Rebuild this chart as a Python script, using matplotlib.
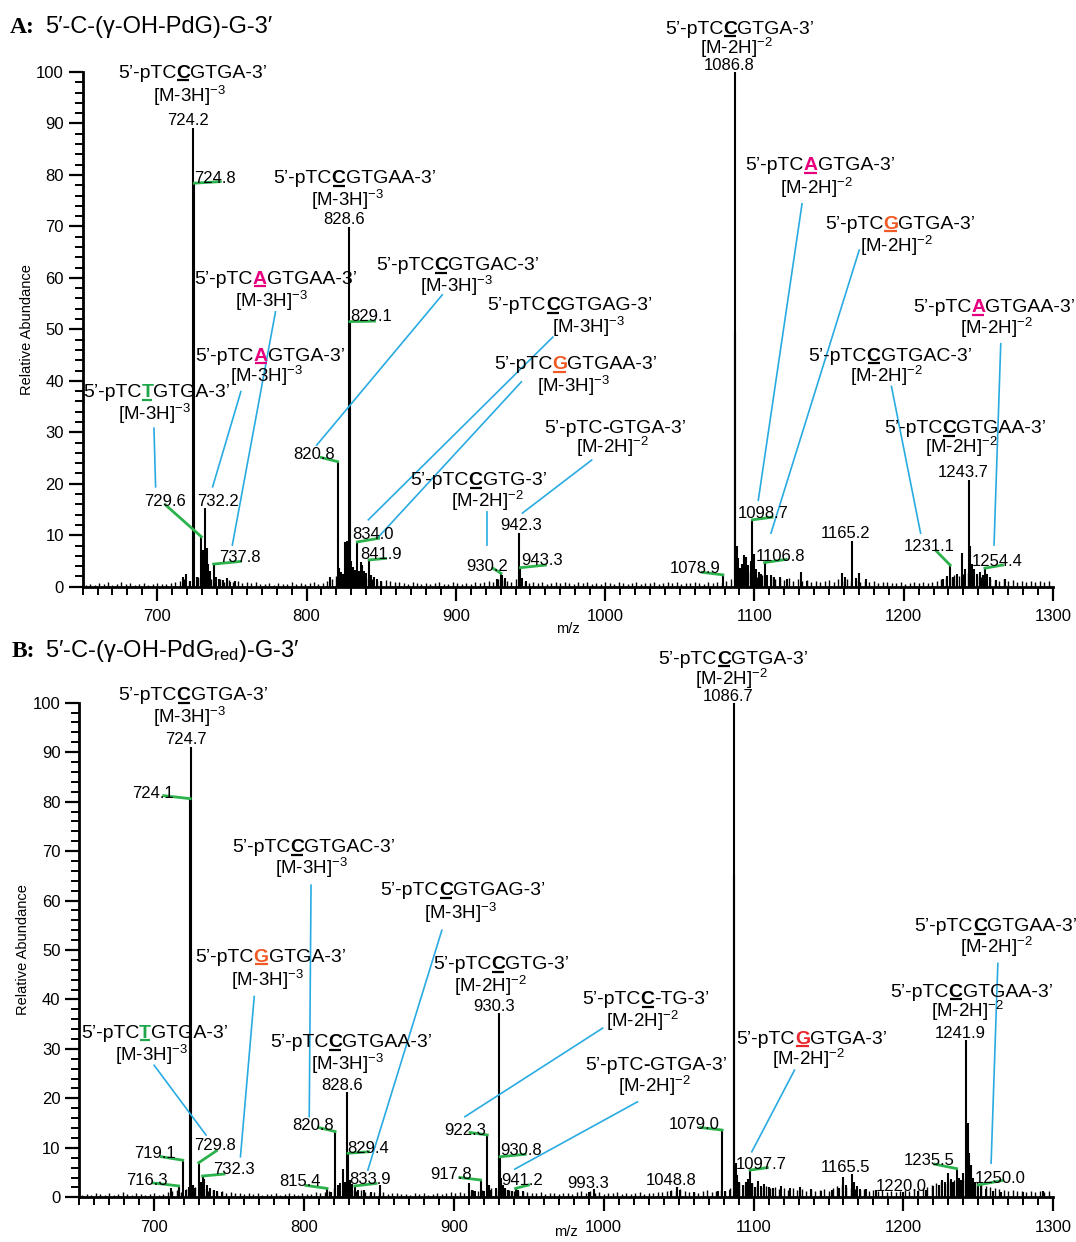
import numpy as np
import matplotlib
matplotlib.use('Agg')
import matplotlib.pyplot as plt
from matplotlib.ticker import MultipleLocator

plt.rcParams['font.family'] = ['Liberation Sans', 'DejaVu Sans']
plt.rcParams['mathtext.fontset'] = 'custom'
plt.rcParams['mathtext.rm'] = 'Liberation Sans'
plt.rcParams['mathtext.it'] = 'Liberation Sans:italic'
plt.rcParams['mathtext.bf'] = 'Liberation Sans:bold'
plt.rcParams['mathtext.sf'] = 'Liberation Sans'

CYAN = '#29abe2'
GREEN = '#2bb24c'
MAG = '#e6007e'
ORANGE = '#f15a24'
RED = '#e8262b'
TGREEN = '#1fa64a'

# ---------------- panel A : peaks (m/z, relative abundance) ----------------
peaks_a_mz = [724.2, 724.8, 729.6, 732.2, 737.8, 820.8, 828.6, 829.1, 834.0, 841.9,
              930.2, 942.3, 943.3, 1078.9, 1086.8, 1098.7, 1106.8, 1165.2, 1231.1,
              1243.7, 1254.4,
              717.5, 719.5, 722.0, 726.3, 727.4, 730.6, 731.3, 733.3, 734.2, 735.5,
              739.5, 741.5, 744.0, 746.5, 749.0, 752.0, 816.0, 821.9, 823.2, 824.3,
              825.9, 826.8, 827.6, 830.0, 831.0, 832.4, 835.2, 836.3, 837.3, 838.6,
              840.0, 843.2, 845.0, 847.0, 850.0, 927.5, 931.2, 933.0, 944.6, 947.0,
              1087.3, 1088.0, 1089.0, 1090.4, 1091.6, 1093.2, 1094.6, 1096.0, 1097.4,
              1099.6, 1101.0, 1102.8, 1104.6, 1108.2, 1110.8, 1113.0, 1117.0, 1122.0,
              1131.0, 1135.0, 1158.7, 1161.0, 1168.0, 1170.0, 1175.0, 1226.0, 1229.0,
              1233.0, 1236.0, 1239.2, 1241.0, 1244.5, 1245.5, 1247.0, 1249.0, 1251.0,
              1253.0, 1256.0, 1258.0, 1262.0, 1268.0]
peaks_a_int = [89.2, 78.4, 9.7, 15.2, 4.4, 24.3, 69.9, 51.5, 8.7, 5.2,
               2.6, 10.4, 3.7, 2.3, 100.0, 13.0, 4.7, 8.9, 4.2,
               20.7, 3.6,
               1.8, 2.4, 1.2, 1.8, 1.4, 7.2, 5.5, 7.6, 4.5, 3.0,
               1.8, 1.5, 1.3, 1.6, 1.0, 1.2, 1.8, 3.6, 2.8, 2.4,
               8.7, 8.9, 4.0, 5.0, 3.8, 3.2, 3.0, 4.8, 4.2, 3.0,
               2.6, 2.2, 1.8, 1.4, 1.1, 1.5, 2.2, 1.6, 1.6, 1.2,
               49.2, 8.0, 5.5, 3.6, 4.5, 6.2, 5.8, 4.2, 5.0,
               6.3, 3.5, 2.8, 2.5, 2.2, 2.3, 1.8, 1.8, 1.5,
               2.9, 1.2, 2.7, 1.8, 1.7, 2.6, 1.5, 1.5, 2.0,
               1.8, 2.5, 6.5, 3.5, 8.0, 4.5, 3.5, 2.5, 2.8,
               2.2, 2.4, 1.8, 1.3, 1.5]

# ---------------- panel B ----------------
peaks_b_mz = [716.3, 719.1, 724.1, 724.7, 729.8, 732.3, 815.4, 820.8, 828.6, 829.4,
              833.9, 917.8, 922.3, 930.3, 930.8, 941.2, 993.3, 1048.8, 1079.0, 1086.7,
              1097.7, 1165.5, 1220.0, 1235.5, 1241.9, 1250.0,
              711.5, 721.0, 723.0, 726.0, 727.2, 731.0, 733.5, 735.0, 737.0, 740.0,
              742.0, 745.0, 818.0, 822.4, 824.0, 825.8, 827.3, 831.0, 832.2, 836.0,
              840.0, 845.0, 851.0, 910.2, 912.0, 914.0, 920.0, 923.5, 925.0, 928.0,
              931.5, 932.5, 934.0, 936.0, 939.0, 943.0, 946.0, 990.0, 1045.0, 1051.0,
              1060.0, 1076.0, 1081.0, 1084.0, 1087.2, 1088.0, 1089.0, 1090.5, 1093.0,
              1095.0, 1096.5, 1099.0, 1101.0, 1103.0, 1105.0, 1107.0, 1110.0, 1113.0,
              1118.0, 1124.0, 1131.0, 1138.0, 1145.0, 1152.0, 1157.0, 1159.4, 1162.0,
              1167.0, 1169.0, 1171.0, 1175.0, 1182.0, 1200.0, 1210.0, 1215.0, 1224.0,
              1226.0, 1228.0, 1229.6, 1231.5, 1233.0, 1237.0, 1238.5, 1240.0, 1242.8,
              1243.6, 1245.0, 1246.5, 1248.0, 1252.0, 1255.0, 1260.0, 1265.0, 1280.0,
              1293.0]
peaks_b_int = [2.3, 7.5, 80.6, 91.1, 7.0, 4.3, 1.8, 13.3, 21.3, 8.9,
               2.3, 3.5, 12.6, 37.2, 8.2, 1.8, 1.6, 2.1, 13.6, 100.0,
               5.5, 4.8, 2.2, 5.8, 31.8, 2.5,
               1.8, 1.5, 2.0, 2.5, 1.8, 3.0, 3.8, 2.4, 1.8, 1.4,
               1.2, 1.1, 1.0, 2.4, 2.8, 5.8, 3.0, 3.5, 2.6, 1.4,
               1.4, 1.0, 2.5, 2.8, 1.5, 1.2, 1.2, 2.5, 1.5, 1.8,
               4.0, 2.5, 1.8, 1.4, 1.3, 1.4, 1.2, 1.0, 1.2, 1.5,
               1.0, 1.2, 1.3, 1.5, 65.2, 7.0, 4.5, 3.0, 2.5,
               3.0, 3.8, 2.8, 2.0, 3.2, 2.2, 2.6, 2.0, 1.8,
               2.2, 1.8, 2.0, 1.6, 1.3, 1.5, 1.8, 4.2, 2.5,
               3.0, 2.2, 1.6, 1.7, 1.4, 1.0, 1.2, 1.5, 2.5,
               3.5, 3.0, 4.9, 3.8, 3.0, 4.0, 3.5, 5.0, 15.0,
               9.0, 6.5, 4.0, 3.0, 2.2, 1.6, 1.2, 1.1, 1.0,
               1.2]

# baseline noise, one stick every 3 m/z from 652 to 1297
noise_mz = np.arange(652, 1300, 3)
noise_a = [0.4, 0.6, 0.3, 0.8, 0.5, 0.9, 0.4, 0.6, 1.0, 0.5, 0.7, 0.3, 0.6, 0.8, 0.4, 0.5, 0.7, 0.6,
           0.5, 0.8, 0.9, 1.2, 1.5, 1.0, 1.4, 1.8, 2.0, 1.6, 1.4, 1.2, 1.5, 1.0, 1.3, 0.9, 1.1, 0.8,
           1.0, 0.7, 0.9, 0.6, 0.5, 0.8, 0.4, 0.7, 0.6, 0.5, 0.9, 0.6, 0.8, 0.5, 0.7, 1.0, 0.6, 0.8,
           1.2, 1.5, 2.0, 2.2, 2.5, 2.0, 1.8, 2.2, 1.9, 1.6, 1.4, 1.2, 1.0, 1.3, 1.1, 0.9, 1.0, 0.8,
           0.6, 0.9, 0.7, 0.5, 0.8, 0.6, 0.7, 1.0, 0.5, 0.6, 0.9, 0.7, 0.5, 0.8, 0.6, 0.9, 0.7, 1.0,
           1.2, 1.0, 1.5, 1.3, 1.1, 1.0, 1.4, 1.2, 0.9, 0.8, 1.0, 0.7, 0.9, 0.6, 0.8, 1.0, 0.7, 0.9,
           0.8, 0.6, 1.0, 0.7, 0.9, 0.5, 0.8, 0.6, 1.0, 0.7, 0.6, 0.9, 0.8, 0.5, 0.7, 1.0, 0.6, 0.8,
           0.7, 0.9, 0.6, 0.8, 1.0, 0.7, 0.9, 0.6, 0.8, 0.7, 1.0, 0.8, 0.6, 0.9, 0.7, 1.0, 0.8, 1.1,
           1.5, 2.5, 3.0, 2.2, 2.8, 2.0, 1.8, 2.2, 1.6, 1.9, 1.5, 1.7, 1.3, 1.6, 1.2, 1.5, 1.1, 1.3,
           1.0, 1.2, 0.9, 1.1, 1.3, 1.0, 1.4, 1.2, 1.5, 1.1, 1.3, 1.0, 1.2, 0.9, 1.1, 0.8, 1.0, 0.9,
           0.8, 0.7, 0.9, 0.6, 0.8, 1.0, 0.7, 0.9, 0.8, 1.0, 1.2, 1.4, 1.6, 1.8, 2.2, 2.0, 2.4, 2.6,
           2.2, 2.0, 1.8, 1.6, 1.5, 1.3, 1.2, 1.4, 1.1, 1.3, 1.0, 1.2, 0.9, 1.1, 1.0, 1.2, 0.9, 1.1]
noise_b = [0.5, 0.7, 0.4, 0.9, 0.6, 0.5, 0.8, 0.4, 0.7, 1.0, 0.6, 0.5, 0.8, 0.7, 0.4, 0.6, 0.9, 0.5,
           0.7, 1.0, 1.2, 1.4, 1.0, 1.6, 1.8, 2.0, 1.5, 1.7, 1.3, 1.4, 1.1, 1.2, 0.9, 1.0, 0.8, 0.9,
           0.7, 0.8, 0.6, 0.9, 0.5, 0.7, 0.6, 0.8, 0.5, 0.7, 0.9, 0.6, 0.5, 0.8, 0.6, 0.7, 1.0, 0.8,
           1.0, 1.3, 1.8, 2.0, 1.6, 1.8, 1.5, 1.2, 1.4, 1.0, 0.9, 1.1, 0.8, 1.0, 0.7, 0.9, 0.8, 0.6,
           0.7, 0.5, 0.8, 0.6, 0.9, 0.5, 0.7, 0.8, 0.6, 0.9, 1.0, 0.8, 1.1, 0.9, 1.3, 1.5, 1.2, 1.4,
           1.6, 1.8, 1.4, 2.0, 1.7, 1.5, 1.3, 1.2, 1.0, 1.1, 0.9, 0.8, 1.0, 0.7, 0.9, 0.8, 0.6, 0.9,
           0.8, 0.7, 1.0, 1.2, 0.9, 1.3, 0.8, 1.0, 0.7, 0.9, 0.8, 1.1, 0.7, 0.9, 0.6, 0.8, 1.0, 0.7,
           0.9, 0.8, 1.1, 1.0, 1.3, 1.5, 1.2, 1.6, 1.3, 1.1, 1.0, 0.9, 1.2, 1.4, 1.0, 1.2, 1.5, 1.3,
           1.8, 2.6, 3.0, 2.4, 2.2, 2.8, 2.5, 2.0, 2.3, 1.8, 2.1, 1.7, 1.9, 1.5, 1.8, 1.4, 1.6, 1.3,
           1.5, 1.2, 1.4, 1.6, 1.3, 1.8, 2.2, 2.5, 2.0, 1.8, 1.6, 1.4, 1.7, 1.3, 1.5, 1.2, 1.4, 1.1,
           1.2, 1.0, 1.3, 1.5, 1.2, 1.6, 1.4, 1.8, 2.0, 2.4, 2.8, 3.0, 2.6, 3.2, 3.5, 3.0, 3.8, 4.0,
           3.5, 3.0, 2.6, 2.2, 2.0, 1.8, 1.6, 1.5, 1.3, 1.4, 1.2, 1.3, 1.1, 1.2, 1.0, 1.3, 1.1, 1.2]

# sequence annotations: (marked base, colour, rest, seq xy, charge, charge xy, number, number xy, cyan leader)
seq_a = [
    ("C", 'k', "GTGA-3’", (723.8, 100.2), 3, (721.5, 95.5), "724.2", (720.8, 90.9), None),
    ("C", 'k', "GTGAA-3’", (832.1, 79.7), 3, (827.5, 75.3), "828.6", (824.8, 71.6), None),
    ("A", MAG, "GTGAA-3’", (779.2, 60.2), 3, (776.8, 55.7), None, None, (779.2, 53.4, 750.3, 8.1)),
    ("A", MAG, "GTGA-3’", (775.7, 45.3), 3, (773.4, 41.1), None, None, (756.0, 37.9, 737.1, 19.4)),
    ("T", TGREEN, "GTGA-3’", (699.6, 38.2), 3, (698.0, 33.7), None, None, (697.8, 30.8, 698.9, 19.4)),
    ("C", 'k', "GTGAC-3’", (901.3, 62.8), 3, (900.1, 58.6), None, None, (890.9, 56.7, 806.8, 27.5)),
    ("C", 'k', "GTGAG-3’", (976.3, 55.1), 3, (988.5, 50.6), None, None, (965.0, 48.5, 841.4, 13.0)),
    ("G", ORANGE, "GTGAA-3’", (980.3, 43.6), 3, (979.0, 39.2), None, None, (943.9, 39.8, 848.3, 9.7)),
    ("C", 'k', "GTG-3’", (915.2, 21.1), 2, (920.9, 16.8), None, None, (920.9, 14.6, 920.9, 8.1)),
    ("-", None, "GTGA-3’", (1006.5, 31.2), 2, (1004.7, 27.2), None, None, (991.0, 24.6, 944.6, 14.3)),
    ("A", MAG, "GTGA-3’", (1143.8, 82.3), 2, (1141.6, 77.7), None, None, (1131.9, 74.4, 1102.6, 16.8)),
    ("G", ORANGE, "GTGA-3’", (1197.6, 70.9), 2, (1195.3, 66.4), None, None, (1170.2, 65.4, 1111.1, 10.4)),
    ("A", MAG, "GTGAA-3’", (1260.5, 54.7), 2, (1262.2, 50.4), None, None, (1265.0, 47.2, 1260.5, 8.1)),
    ("C", 'k', "GTGAC-3’", (1190.8, 45.3), 2, (1188.4, 41.1), None, None, (1191.8, 38.9, 1211.3, 10.4)),
    ("C", 'k', "GTGAA-3’", (1241.1, 31.2), 2, (1238.8, 27.2), "1243.7", (1240.0, 22.5), None),
    ("C", 'k', "GTGA-3’", (1090.1, 108.8), 2, (1087.8, 104.9), "1086.8", (1083.1, 101.5), None),
]
seq_b = [
    ("C", 'k', "GTGA-3’", (725.9, 101.9), 3, (723.6, 97.3), "724.7", (721.3, 92.9), None),
    ("C", 'k', "GTGAC-3’", (806.3, 71.2), 3, (805.1, 66.7), None, None, (804.7, 63.1, 803.5, 16.3)),
    ("C", 'k', "GTGAG-3’", (906.0, 62.5), 3, (904.4, 57.7), None, None, (892.0, 54.0, 842.6, 5.5)),
    ("G", ORANGE, "GTGA-3’", (777.6, 49.0), 3, (775.3, 44.1), None, None, (766.8, 40.6, 757.6, 8.2)),
    ("T", TGREEN, "GTGA-3’", (700.2, 33.7), 3, (698.3, 29.0), None, None, (700.0, 26.7, 734.6, 12.6)),
    ("C", 'k', "GTGAA-3’", (831.5, 31.8), 3, (829.3, 27.1), "828.6", (825.4, 23.0), None),
    ("C", 'k', "GTG-3’", (931.5, 47.5), 2, (924.6, 42.9), "930.3", (926.9, 38.9), None),
    ("C", 'k', "-TG-3’", (1028.2, 40.4), 2, (1026.0, 35.8), None, None, (999.3, 34.2, 907.4, 16.3)),
    ("-", None, "GTGA-3’", (1035.0, 27.2), 2, (1033.9, 22.7), None, None, (1022.5, 19.3, 940.7, 5.7)),
    ("G", RED, "GTGA-3’", (1138.8, 32.5), 2, (1136.5, 28.1), None, None, (1127.3, 25.7, 1098.8, 9.2)),
    ("C", 'k', "GTGA-3’", (1086.4, 109.3), 2, (1085.3, 104.9), "1086.7", (1082.9, 101.5), None),
    ("C", 'k', "GTGAA-3’", (1261.7, 55.2), 2, (1261.7, 50.8), None, None, (1263.0, 47.3, 1258.5, 6.9)),
    ("C", 'k', "GTGAA-3’", (1245.3, 42.0), 2, (1242.6, 37.9), "1241.9", (1238.0, 33.5), None),
]

# peak labels with green leaders: (label, label xy, far end of leader)
num_a = [
    ("724.8", (738.9, 79.6), (742.2, 78.7)),
    ("729.6", (705.0, 16.8), (705.5, 15.9)),
    ("732.2", (740.4, 16.8), None),
    ("737.8", (755.4, 6.0), (755.6, 4.9)),
    ("820.8", (805.0, 25.9), (809.8, 25.1)),
    ("829.1", (843.1, 52.8), (845.5, 51.6)),
    ("834.0", (844.8, 10.4), (848.3, 9.4)),
    ("841.9", (850.1, 6.5), (852.9, 5.5)),
    ("930.2", (920.9, 4.3), (924.8, 3.6)),
    ("942.3", (943.8, 12.2), None),
    ("943.3", (957.7, 5.3), (960.0, 4.2)),
    ("1078.9", (1060.3, 3.8), (1064.9, 2.8)),
    ("1098.7", (1106.0, 14.5), (1111.8, 13.5)),
    ("1106.8", (1117.5, 6.2), (1121.3, 5.3)),
    ("1165.2", (1161.0, 10.7), None),
    ("1231.1", (1217.0, 8.1), (1221.6, 7.0)),
    ("1254.4", (1262.7, 5.2), (1266.2, 4.2)),
]
num_b = [
    ("724.1", (699.5, 82.0), (706.4, 81.2)),
    ("719.1", (700.7, 9.2), (704.8, 8.2)),
    ("716.3", (694.9, 3.8), (699.5, 2.9)),
    ("729.8", (740.9, 10.8), (741.6, 9.4)),
    ("732.3", (753.5, 6.0), (746.6, 4.7)),
    ("820.8", (805.9, 14.9), (809.8, 14.1)),
    ("815.4", (797.1, 3.5), (801.3, 2.4)),
    ("829.4", (843.1, 10.1), (843.0, 9.2)),
    ("833.9", (844.2, 4.0), (848.1, 2.8)),
    ("922.3", (907.4, 13.9), (910.8, 13.1)),
    ("917.8", (898.2, 5.0), (903.9, 4.0)),
    ("930.8", (945.0, 9.7), (947.6, 8.7)),
    ("941.2", (945.6, 3.8), (949.9, 2.5)),
    ("993.3", (989.5, 3.0), None),
    ("1048.8", (1045.2, 3.8), None),
    ("1079.0", (1060.6, 15.1), (1064.7, 14.1)),
    ("1097.7", (1105.3, 7.0), (1109.2, 6.0)),
    ("1165.5", (1161.2, 6.3), None),
    ("1220.0", (1198.8, 2.5), None),
    ("1235.5", (1217.0, 7.7), (1220.9, 6.7)),
    ("1250.0", (1264.3, 4.2), (1265.9, 3.4)),
]

SEQ_FS = 14
CHG_FS = 13.5
NUM_FS = 12

fig = plt.figure(figsize=(10.76, 12.42), dpi=100)
R = fig.canvas.get_renderer()
PX = fig.dpi / 72.0


def put_text(ax, x, y, s, fs, **kw):
    # place text so that its cap-height centre sits on (x, y)
    t = ax.text(x, y, s, fontsize=fs, va='baseline', clip_on=False, **kw)
    px, py = ax.transData.transform((x, y))
    t.set_position(ax.transData.inverted().transform((px, py - 0.36 * fs * PX)))
    return t


def seq_text(ax, x, y, mid, color, post, fs=SEQ_FS):
    pre = "5’-pTC"
    kws = [dict(color='k'), dict(color=color or 'k', fontweight='bold'), dict(color='k')]
    txts = [ax.text(x, y, s, fontsize=fs, ha='left', va='baseline', clip_on=False, **k)
            for s, k in zip([pre, mid, post], kws)]
    widths = [t.get_window_extent(R).width for t in txts]
    px, py = ax.transData.transform((x, y))
    py -= 0.36 * fs * PX
    cur = px - sum(widths) / 2
    inv = ax.transData.inverted()
    for t, w in zip(txts, widths):
        t.set_position(inv.transform((cur, py)))
        cur += w
    if color is not None:
        x0 = px - sum(widths) / 2 + widths[0] + 1
        x1 = x0 + widths[1] - 2
        (u0, v0), (u1, v1) = inv.transform([(x0, py - 2.5), (x1, py - 2.5)])
        ax.plot([u0, u1], [v0, v1], color=color, lw=1.6, clip_on=False, solid_capstyle='butt')


def draw_panel(ax, mz, inten, noise, seqs, nums):
    ax.set_xlim(650, 1300)
    ax.set_ylim(0, 100)
    ax.vlines(noise_mz, 0, noise, color='k', lw=1.0)
    ax.vlines(mz, 0, inten, color='k', lw=1.5)
    for s in ['top', 'right']:
        ax.spines[s].set_visible(False)
    for s in ['left', 'bottom']:
        ax.spines[s].set_linewidth(2.0)
    ax.xaxis.set_minor_locator(MultipleLocator(10))
    ax.yaxis.set_major_locator(MultipleLocator(10))
    ax.yaxis.set_minor_locator(MultipleLocator(2))
    ax.set_xticks(np.arange(700, 1301, 100))
    ax.tick_params(axis='both', which='major', direction='out', length=10, width=1.6, labelsize=12)
    ax.tick_params(axis='both', which='minor', direction='out', length=6, width=1.4)
    ax.tick_params(axis='x', pad=6)
    ax.set_ylabel('Relative Abundance', fontsize=10.5)
    ax.set_xlabel('m/z', fontsize=10.5)
    ax.yaxis.set_label_coords(-0.05, 0.5)

    lookup = dict(zip(mz, inten))
    for mid, col, post, sxy, z, cxy, num, nxy, lead in seqs:
        seq_text(ax, sxy[0], sxy[1], mid, col, post)
        put_text(ax, cxy[0], cxy[1], "[M-%dH]$^{-%d}$" % (z, z), CHG_FS, ha='center')
        if num is not None:
            put_text(ax, nxy[0], nxy[1], num, NUM_FS, ha='center')
        if lead is not None:
            ax.plot([lead[0], lead[2]], [lead[1], lead[3]], color=CYAN, lw=1.2, clip_on=False)
    for lab, lxy, end in nums:
        put_text(ax, lxy[0], lxy[1], lab, NUM_FS, ha='center', zorder=4)
        if end is not None:
            p = float(lab)
            ax.plot([p, end[0]], [lookup[p], end[1]], color=GREEN, lw=2.0, clip_on=False, zorder=3)


ax_a = fig.add_axes([82.6 / 1076, 1 - 586.7 / 1242, (1053 - 82.6) / 1076, (586.7 - 72) / 1242])
ax_b = fig.add_axes([79.2 / 1076, 1 - 1197.3 / 1242, (1053.3 - 79.2) / 1076, (1197.3 - 702.7) / 1242])
draw_panel(ax_a, peaks_a_mz, peaks_a_int, noise_a, seq_a, num_a)
draw_panel(ax_b, peaks_b_mz, peaks_b_int, noise_b, seq_b, num_b)
ax_a.xaxis.set_label_coords(0.5, -0.069)
ax_b.xaxis.set_label_coords(0.5, -0.055)

# panel titles
fig.text(10 / 1076, 1 - 33.3 / 1242, "A:", family=['Liberation Serif'], fontweight='bold',
         fontsize=17, va='baseline')
fig.text(44.8 / 1076, 1 - 33.3 / 1242, "5′-C-(γ-OH-PdG)-G-3′", fontsize=17, va='baseline')
fig.text(12 / 1076, 1 - 656.7 / 1242, "B:", family=['Liberation Serif'], fontweight='bold',
         fontsize=17, va='baseline')
fig.text(44.8 / 1076, 1 - 656.7 / 1242, "5′-C-(γ-OH-PdG$_{\\mathrm{red}}$)-G-3′", fontsize=17,
         va='baseline')

fig.savefig('out.png', dpi=100)
